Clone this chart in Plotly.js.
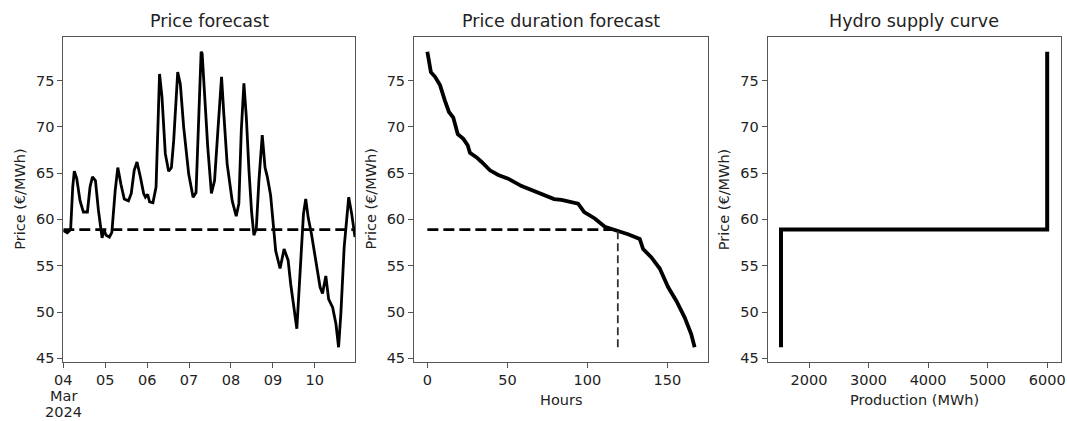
<!DOCTYPE html>
<html><head><meta charset="utf-8">
<script src="https://cdn.plot.ly/plotly-3.0.1.min.js"></script>
<style>html,body{margin:0;padding:0;background:#fff;} #chart{width:1067px;height:421px;}</style>
</head><body><div id="chart"></div>
<script>
// ---- data ----
const priceHours = [0,2.3,4.2,5.4,6.3,7.7,9.6,11.5,13.8,15.3,16.7,18.4,20.1,21.5,22.2,23.2,24.5,26.4,27.8,29.7,31.2,33,34.9,37.3,38.9,40.6,42.2,44.1,46,47,48.3,49.4,51.3,53.1,54.2,55.1,56.5,58.4,60.3,61.9,63.2,65.5,67,68.9,71.8,74.3,76,77.4,78.9,79.5,80.8,82.7,84.8,86.6,88.5,90.6,91.9,93.8,96.7,99,100.5,101.9,103.4,104.8,106.3,107.8,109.1,110.5,112,113.9,115.5,116.8,118.7,120.3,121.6,124.1,126.4,128.7,130.2,133.7,135.6,137.5,138.8,140.2,142.1,144.6,147,148.4,150.3,151.9,154.2,156.1,157.6,158.9,160.8,163.4,165.1,167];
const priceValues = [58.8,58.55,58.9,63.5,65.2,64.4,62.0,60.8,60.8,63.5,64.6,64.2,61.0,58.8,58.0,58.9,58.3,58.1,58.6,63.1,65.6,63.8,62.2,62.0,62.8,65.3,66.2,64.6,62.8,62.4,62.7,61.9,61.8,63.5,71.4,75.7,73.2,67.1,65.2,65.6,68.5,75.9,74.6,70.0,64.9,62.4,62.9,69.6,78.1,77.9,73.9,67.8,62.8,64.2,69.6,75.4,71.4,66.0,62.0,60.35,61.7,69.6,74.7,71.0,65.3,60.8,58.3,59.0,64.2,69.1,65.6,64.6,62.6,58.8,56.6,54.7,56.8,55.6,53.0,48.2,54.5,60.6,62.2,60.2,58.4,55.6,52.7,52.0,53.9,51.4,50.5,48.7,46.2,49.8,57.0,62.4,60.6,58.1];
const durationHours = [0,1.3,2.2,4.8,7.9,11,13.5,16.2,19,22.5,25.2,26.6,30.8,33.9,39.1,44.3,50.5,58.9,67.2,79.2,83.8,94.2,98,104.6,110.9,118.8,125.4,132.7,134.8,140,145.2,150.4,155.6,160.8,164.9,167];
const durationValues = [78.1,76.8,75.9,75.4,74.5,72.8,71.6,71.0,69.2,68.7,68.0,67.2,66.7,66.2,65.3,64.8,64.4,63.6,63.0,62.2,62.1,61.7,60.8,60.1,59.2,58.8,58.4,57.9,56.8,55.9,54.7,52.7,51.2,49.4,47.6,46.2];
const waterValue = 58.9;
const cutoffHour = 119;
const hydroProduction = [1530,1530,6000,6000];
const hydroPrice = [46.2,58.9,58.9,78.1];
const dateTickHours = [0,24,48,72,96,120,144];
const dateTickLabels = ["04\nMar\n2024","05","06","07","08","09","10"];
const hourTicks = [0,50,100,150];
const productionTicks = [2000,3000,4000,5000,6000];
const priceTicks = [45,50,55,60,65,70,75];
const panelTitles = ["Price forecast","Price duration forecast","Hydro supply curve"];
const yLabel = "Price (€/MWh)";
const xLabels = ["","Hours","Production (MWh)"];

// ---- layout geometry (pixels) ----
const W = 1067, H = 421;
const panels = [[63.3,355],[414,708],[767.7,1060.5]];
const topPx = 37, bottomPx = 362;
const px = v => v / W, py = v => 1 - v / H;
const FONT = "DejaVu Sans";
const txt = "#222";

const priceMin = Math.min(...priceValues);
const priceMax = Math.max(...priceValues);
const pad = (priceMax - priceMin) * 0.05;
const yRange = [priceMin - pad, priceMax + pad];
const dPad = (durationHours[durationHours.length-1] - durationHours[0]) * 0.05;
const hPad = (hydroProduction[2] - hydroProduction[0]) * 0.05;

const traces = [
  {x: priceHours, y: priceValues, xaxis:'x', yaxis:'y', mode:'lines', line:{color:'#000', width:2.8}},
  {x: [priceHours[0], priceHours[priceHours.length-1]], y: [waterValue, waterValue], xaxis:'x', yaxis:'y', mode:'lines', line:{color:'#000', width:2.6, dash:'11px,5px'}},
  {x: durationHours, y: durationValues, xaxis:'x2', yaxis:'y2', mode:'lines', line:{color:'#000', width:3.8}},
  {x: [0, cutoffHour], y: [waterValue, waterValue], xaxis:'x2', yaxis:'y2', mode:'lines', line:{color:'#000', width:2.6, dash:'11px,5px'}},
  {x: [cutoffHour, cutoffHour], y: [priceMin, waterValue], xaxis:'x2', yaxis:'y2', mode:'lines', line:{color:'#333', width:1.8, dash:'8px,4px'}},
  {x: hydroProduction, y: hydroPrice, xaxis:'x3', yaxis:'y3', mode:'lines', line:{color:'#000', width:4}}
];

function xa(i, extra){
  return Object.assign({domain:[px(panels[i][0]), px(panels[i][1])], anchor: i===0?'y':'y'+(i+1),
    showline:true, mirror:true, linecolor:'#555', linewidth:1, ticks:'outside', ticklen:5, tickcolor:'#555',
    showgrid:false, zeroline:false, tickfont:{family:FONT, size:14.5, color:txt}, fixedrange:true}, extra);
}
function ya(i){
  return {domain:[py(bottomPx), py(topPx)], anchor: i===0?'x':'x'+(i+1), range:yRange,
    tickmode:'array', tickvals:priceTicks, ticktext:priceTicks.map(String),
    showline:true, mirror:true, linecolor:'#555', linewidth:1, ticks:'outside', ticklen:5, tickcolor:'#555',
    showgrid:false, zeroline:false, tickfont:{family:FONT, size:14.5, color:txt}, fixedrange:true};
}

const annotations = [];
panels.forEach((p,i)=>{
  const cx = px((p[0]+p[1])/2);
  annotations.push({xref:'paper', yref:'paper', x:cx, y:py(21), xanchor:'center', yanchor:'middle', showarrow:false,
    text:panelTitles[i], font:{family:FONT, size:17.5, color:txt}});
  annotations.push({xref:'paper', yref:'paper', x:px(p[0]-44), y:py((topPx+bottomPx)/2), xanchor:'center', yanchor:'middle', showarrow:false,
    textangle:-90, text:yLabel, font:{family:FONT, size:14.5, color:txt}});
  if (xLabels[i]) annotations.push({xref:'paper', yref:'paper', x:cx, y:py(400), xanchor:'center', yanchor:'middle', showarrow:false,
    text:xLabels[i], font:{family:FONT, size:14.5, color:txt}});
});
// extra lines of multi-line date tick labels (month / year), spaced like the reference
dateTickLabels.forEach((lab, k)=>{
  lab.split('\n').slice(1).forEach((line, j)=>{
    annotations.push({xref:'x', yref:'paper', x:dateTickHours[k], y:py(395.5 + 16*j), xanchor:'center', yanchor:'middle',
      showarrow:false, text:line, font:{family:FONT, size:14.5, color:txt}});
  });
});

const layout = {
  width:W, height:H, margin:{l:0,r:0,t:0,b:0}, paper_bgcolor:'#fff', plot_bgcolor:'#fff', showlegend:false,
  font:{family:FONT, color:txt},
  xaxis: xa(0, {range:[priceHours[0], priceHours[priceHours.length-1]], tickmode:'array', tickvals:dateTickHours, ticktext:dateTickLabels.map(l=>l.split('\n')[0])}),
  xaxis2: xa(1, {range:[durationHours[0]-dPad, durationHours[durationHours.length-1]+dPad], tickmode:'array', tickvals:hourTicks, ticktext:hourTicks.map(String)}),
  xaxis3: xa(2, {range:[hydroProduction[0]-hPad, hydroProduction[2]+hPad], tickmode:'array', tickvals:productionTicks, ticktext:productionTicks.map(String)}),
  yaxis: ya(0), yaxis2: ya(1), yaxis3: ya(2),
  annotations: annotations
};

Plotly.newPlot('chart', traces, layout, {staticPlot:true, displayModeBar:false});
</script>
</body></html>
